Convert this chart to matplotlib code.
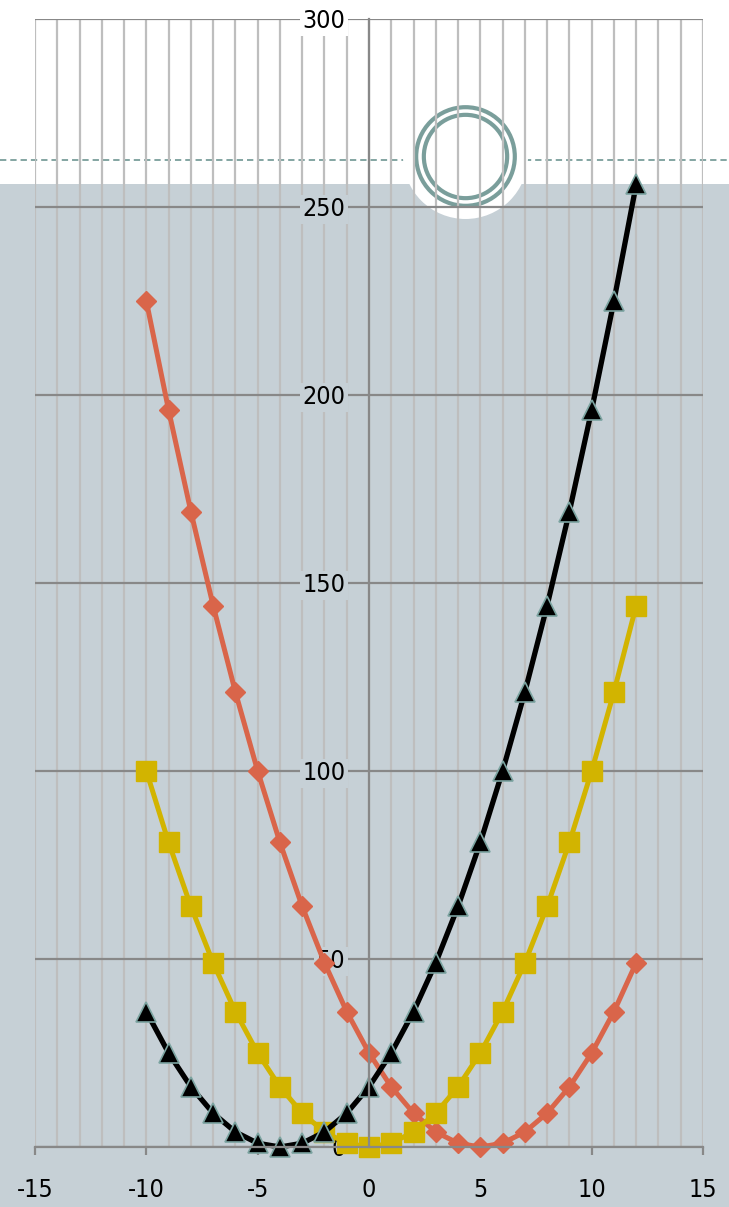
import matplotlib
matplotlib.use("Agg")
import matplotlib.pyplot as plt
from matplotlib.patches import Rectangle
from matplotlib.ticker import MultipleLocator
from matplotlib.transforms import blended_transform_factory

# three parabolas sampled at integer x
x_vals = list(range(-10, 13))
orange_vals = [225, 196, 169, 144, 121, 100, 81, 64, 49, 36, 25, 16, 9, 4, 1, 0,
               1, 4, 9, 16, 25, 36, 49]
yellow_vals = [100, 81, 64, 49, 36, 25, 16, 9, 4, 1, 0, 1, 4, 9, 16, 25, 36, 49,
               64, 81, 100, 121, 144]
black_vals = [36, 25, 16, 9, 4, 1, 0, 1, 4, 9, 16, 25, 36, 49, 64, 81, 100, 121,
              144, 169, 196, 225, 256]

x_ticks = [-15, -10, -5, 0, 5, 10, 15]
y_ticks = [0, 50, 100, 150, 200, 250, 300]
shade_top = 256
ring_x, ring_y = 4.3, 263.5
dash_y = 262.5

BG = "#C6D0D6"
TEAL = "#7A9E9B"
DARK = "#888888"
LIGHT = "#BEBEBE"

plt.rcParams["font.family"] = ["DejaVu Sans"]
plt.rcParams["font.stretch"] = "condensed"
plt.rcParams["axes.unicode_minus"] = False

fig = plt.figure(figsize=(7.29, 12.07), dpi=100)
fig.patch.set_facecolor("white")
ax = fig.add_axes([35 / 729, 60 / 1207, 668 / 729, 1128 / 1207])
ax.patch.set_visible(False)
ax.set_xlim(-15, 15)
ax.set_ylim(0, 300)
ax.set_axisbelow(True)

# shaded band across the whole figure width, plus the dashed marker line
band = blended_transform_factory(fig.transFigure, ax.transData)
ax.add_patch(Rectangle((0, -100), 1, shade_top + 100, transform=band,
                       facecolor=BG, edgecolor="none", clip_on=False, zorder=0.1))
ax.plot([0, 1], [dash_y, dash_y], transform=band, clip_on=False, color=TEAL,
        lw=1.3, ls=(0, (3.5, 2.2)), zorder=0.2)
ax.plot([ring_x], [ring_y], marker="o", ms=90, mfc="white", mec="none",
        clip_on=False, zorder=0.3)
ax.plot([ring_x], [ring_y], marker="o", ms=71, mfc="none", mec=TEAL, mew=3,
        clip_on=False, zorder=0.4)
ax.plot([ring_x], [ring_y], marker="o", ms=60, mfc="none", mec=TEAL, mew=3,
        clip_on=False, zorder=0.4)

# grid
ax.set_xticks(x_ticks)
ax.xaxis.set_minor_locator(MultipleLocator(1))
ax.set_yticks(y_ticks)
ax.grid(True, axis="x", which="both", color=LIGHT, lw=1.6)
ax.grid(True, axis="y", which="major", color=DARK, lw=1.6)
ax.get_ygridlines()[-1].set_color("#A8A8A8")

for side in ("top", "right"):
    ax.spines[side].set_visible(False)
ax.spines["left"].set_position(("data", 0))
ax.spines["left"].set_color(DARK)
ax.spines["left"].set_linewidth(1.6)
ax.spines["bottom"].set_color(DARK)
ax.spines["bottom"].set_linewidth(1.6)

ax.tick_params(axis="x", which="major", direction="out", length=6, width=1.6,
               color=DARK, pad=16, labelsize=18)
ax.tick_params(axis="x", which="minor", length=0)
ax.tick_params(axis="y", length=0, pad=17, labelsize=18)

for val, lab in zip(y_ticks, ax.get_yticklabels()):
    face = "white" if val > shade_top else BG
    lab.set_bbox(dict(boxstyle="square,pad=0.1", fc=face, ec="none"))

# series
ax.plot(x_vals, orange_vals, color="#D9654A", lw=3.6, marker="D", ms=10.5,
        mfc="#D9654A", mec="#D9654A", clip_on=False, zorder=2)
ax.plot(x_vals, yellow_vals, color="#D2B400", lw=3.6, marker="s", ms=14,
        mfc="#D2B400", mec="#D2B400", clip_on=False, zorder=2.1)
ax.plot(x_vals, black_vals, color="black", lw=3.8, marker="^", ms=14,
        mfc="black", mec="#7BA3A0", mew=1.2, clip_on=False, zorder=2.2)

fig.savefig("out.png", dpi=100, facecolor=fig.get_facecolor())
